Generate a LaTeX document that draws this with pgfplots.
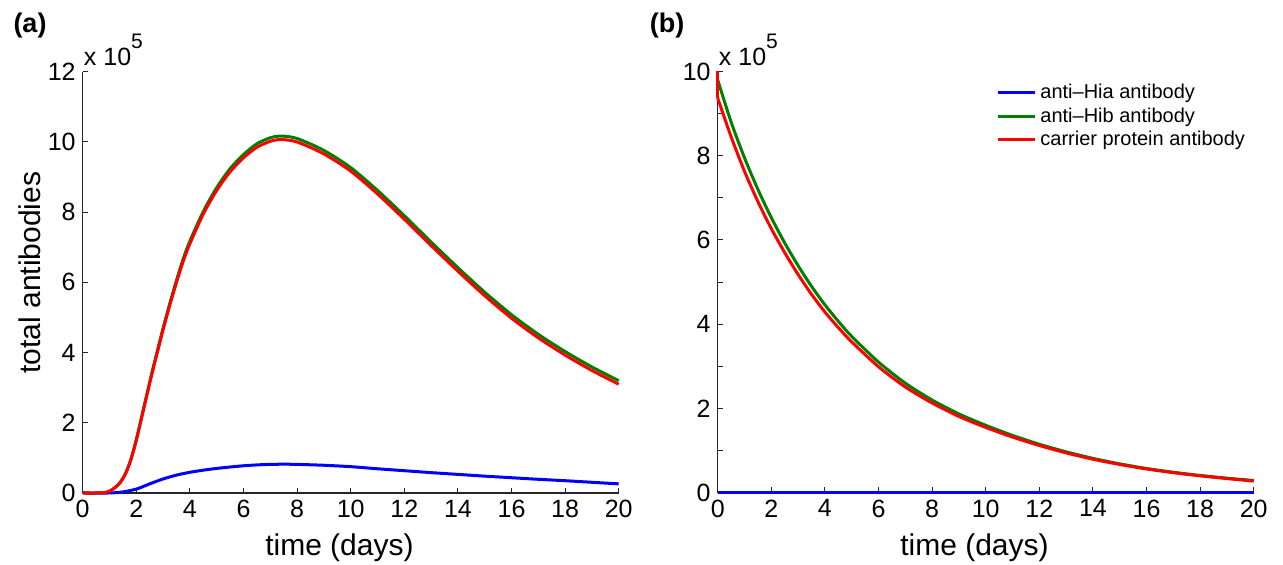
\documentclass[border=0pt]{standalone}
\usepackage{fontspec}
\setmainfont{Liberation Sans}
\usepackage{pgfplots}
\pgfplotsset{compat=1.18}

\definecolor{mblue}{rgb}{0,0,1}
\definecolor{mgreen}{rgb}{0,0.5,0}
\definecolor{mred}{rgb}{1,0,0}

% one panel, matlab look: box off, ticks inside
\pgfplotsset{
  panel/.style={
    scale only axis, width=268pt, height=210.6pt,
    axis lines=left, axis line style={-, line width=0.6pt, black!85},
    tick align=inside, major tick length=2.6pt,
    tick style={black!85, line width=0.5pt},
    xmin=0, xmax=20, xtick={0,2,...,20}, ymin=0,
    clip=false,
    /pgf/number format/assume math mode=true,
    tick label style={font=\fontsize{12.5}{14}\selectfont},
    label style={font=\fontsize{15}{18}\selectfont},
    xlabel={time (days)},
    xlabel style={at={(axis description cs:0.479,-0.1495)}, anchor=base},
    every axis plot/.append style={line width=1.5pt, smooth, tension=0.45},
  },
}
\tikzset{expo/.style={anchor=base west, xshift=-2.9pt, yshift=3.2pt,
    font=\fontsize{12.5}{14}\selectfont}}

\begin{document}
\begin{tikzpicture}
\path[use as bounding box] (0,0) rectangle (641.5pt,282.5pt);

\node[font=\bfseries\fontsize{13.5}{15}\selectfont] at (15pt,269.5pt) {(a)};
\node[font=\bfseries\fontsize{13.5}{15}\selectfont] at (333.5pt,269.5pt) {(b)};

% (a)
\begin{axis}[panel, at={(41.35pt,36pt)}, anchor=south west,
  ymax=12, ytick={0,2,...,12},
  ylabel={total antibodies},
  ylabel style={at={(axis description cs:-0.098,0.523)}, anchor=center},
]
\addplot[mblue] coordinates {
  (0,0)(1,0)(1.2,0.008)(1.5,0.03)(2,0.11)(2.5,0.26)(3,0.4)(3.5,0.51)
  (4,0.59)(4.5,0.65)(5,0.7)(5.5,0.74)(6,0.775)(6.5,0.8)(7,0.815)(7.5,0.82)
  (8,0.815)(9,0.79)(10,0.75)(11,0.69)(12,0.635)(13,0.58)(14,0.53)
  (15,0.48)(16,0.435)(17,0.39)(18,0.35)(19,0.305)(20,0.26)
};
\addplot[mgreen] coordinates {
  (0,0)(0.5,0)(0.8,0.01)(1,0.05)(1.2,0.15)(1.4,0.3)(1.6,0.56)(1.8,0.96)
  (2,1.52)(2.2,2.17)(2.4,2.83)(2.6,3.48)(2.8,4.09)(3,4.7)(3.25,5.4)
  (3.5,6.06)(3.75,6.67)(4,7.18)(4.5,8.02)(5,8.7)(5.5,9.24)(6,9.64)
  (6.5,9.95)(7,10.12)(7.4,10.17)(8,10.1)(9,9.76)(10,9.27)
  (11,8.62)(12,7.9)(13,7.15)(14,6.42)(15,5.72)(16,5.08)(17,4.52)(18,4.03)
  (19,3.59)(20,3.2)
};
\addplot[mred] coordinates {
  (0,0)(0.5,0)(0.8,0.01)(1,0.05)(1.2,0.15)(1.4,0.3)(1.6,0.55)(1.8,0.95)
  (2,1.5)(2.2,2.15)(2.4,2.8)(2.6,3.45)(2.8,4.05)(3,4.65)(3.25,5.35)
  (3.5,6.0)(3.75,6.6)(4,7.1)(4.5,7.95)(5,8.62)(5.5,9.15)(6,9.55)
  (6.5,9.85)(7,10.02)(7.4,10.07)(8,10.0)(9,9.66)(10,9.17)
  (11,8.52)(12,7.8)(13,7.05)(14,6.32)(15,5.62)(16,4.98)(17,4.42)(18,3.93)
  (19,3.49)(20,3.1)
};
\node[expo] at (rel axis cs:0,1) {x 10\raisebox{8.5pt}{\fontsize{10.5}{12}\selectfont 5}};
\end{axis}

% (b)
\begin{axis}[panel, at={(358.85pt,36.15pt)}, anchor=south west,
  ymax=10, ytick={0,1,...,10}, yticklabels={0,,2,,4,,6,,8,,10},
  legend cell align=left,
  legend image code/.code={\draw[#1, sharp plot] (0pt,0pt) -- (18.5pt,0pt);},
  legend style={draw=none, fill=none, row sep=-1pt,
    font=\fontsize{10}{12}\selectfont,
    at={(rel axis cs:0.508,0.99)}, anchor=north west},
]
\addplot[mblue] coordinates {(0,0)(20,0)};
\addlegendentry{anti--Hia antibody}
\addplot[mgreen] coordinates {
  (0,9.8)(0.5,8.8)(1,7.95)(1.5,7.2)(2,6.53)(2.5,5.93)(3,5.39)(3.5,4.9)
  (4,4.46)(4.5,4.07)(5,3.71)(6,3.1)(7,2.6)(8,2.2)(9,1.87)(10,1.6)
  (11,1.36)(12,1.15)(13,0.97)(14,0.815)(15,0.685)(16,0.575)(17,0.485)
  (18,0.41)(19,0.345)(20,0.29)
};
\addlegendentry{anti--Hib antibody}
\addplot[mred] coordinates {
  (0,9.37)(0.5,8.45)(1,7.63)(1.5,6.91)(2,6.27)(2.5,5.7)(3,5.18)
  (3.5,4.71)(4,4.29)(4.5,3.92)(5,3.58)(6,2.99)(7,2.51)(8,2.13)(9,1.81)
  (10,1.55)(11,1.32)(12,1.12)(13,0.945)(14,0.795)(15,0.67)(16,0.563)
  (17,0.475)(18,0.4)(19,0.335)(20,0.275)
};
\addlegendentry{carrier protein antibody}
% initial drop of the carrier antibody at t=0
\addplot[mred, sharp plot, forget plot] coordinates {(0,10)(0,9.37)};
\node[expo] at (rel axis cs:0,1) {x 10\raisebox{8.5pt}{\fontsize{10.5}{12}\selectfont 5}};
\end{axis}
\end{tikzpicture}
\end{document}
